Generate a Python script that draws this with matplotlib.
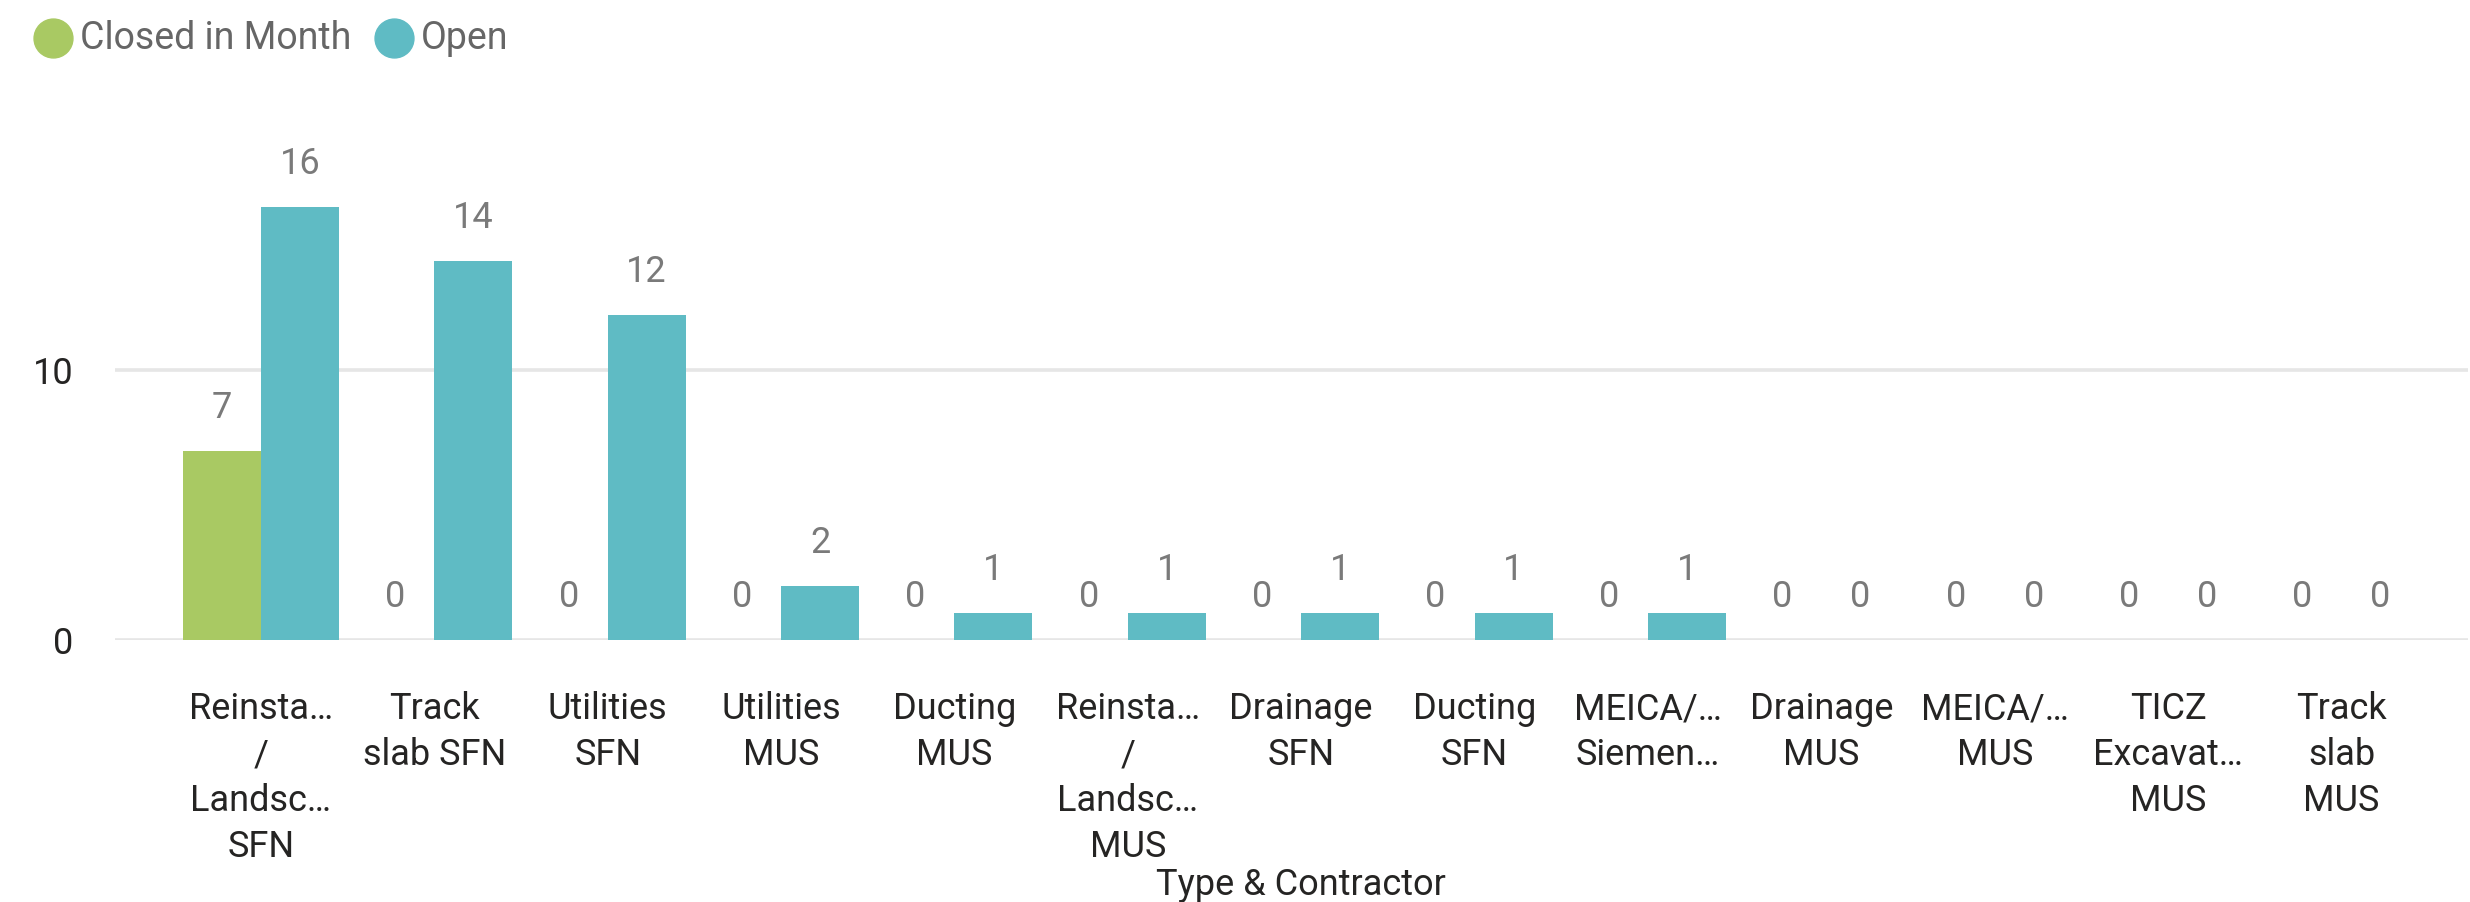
import matplotlib
matplotlib.use("Agg")
import matplotlib.pyplot as plt
import numpy as np
from matplotlib.lines import Line2D

categories = [
    "Reinsta…\n/\nLandsc…\nSFN",
    "Track\nslab SFN",
    "Utilities\nSFN",
    "Utilities\nMUS",
    "Ducting\nMUS",
    "Reinsta…\n/\nLandsc…\nMUS",
    "Drainage\nSFN",
    "Ducting\nSFN",
    "MEICA/…\nSiemen…",
    "Drainage\nMUS",
    "MEICA/…\nMUS",
    "TICZ\nExcavat…\nMUS",
    "Track\nslab\nMUS",
]
closed_in_month = [7, 0, 0, 0, 0, 0, 0, 0, 0, 0, 0, 0, 0]
open_items = [16, 14, 12, 2, 1, 1, 1, 1, 1, 0, 0, 0, 0]
series_names = ["Closed in Month", "Open"]
y_ticks = [0, 10]
x_title = "Type & Contractor"

GREEN = "#A9C963"
TEAL = "#5FBBC4"
LABEL_GRAY = "#7A7A7A"
TEXT = "#252423"

plt.rcParams["font.family"] = ["Roboto", "DejaVu Sans"]

W, H = 2470, 902
fig = plt.figure(figsize=(W / 100, H / 100), dpi=100)
ax_left, ax_right = 115, 2468
ax_bottom_px, ax_top_px = 640, 99
ax = fig.add_axes([ax_left / W, 1 - ax_bottom_px / H,
                   (ax_right - ax_left) / W, (ax_bottom_px - ax_top_px) / H])

x = np.arange(len(categories))
bw = 0.45
b1 = ax.bar(x - bw / 2, closed_in_month, width=bw, color=GREEN, zorder=3)
b2 = ax.bar(x + bw / 2, open_items, width=bw, color=TEAL, zorder=3)

for bars, vals in ((b1, closed_in_month), (b2, open_items)):
    for rect, v in zip(bars, vals):
        ax.annotate(f"{v}", (rect.get_x() + rect.get_width() / 2, v),
                    xytext=(0, 33), textcoords="offset pixels",
                    ha="center", va="baseline", fontsize=26, color=LABEL_GRAY)

ax.set_xlim(-0.842, 12.73)
ax.set_ylim(0, 20)
ax.set_yticks(y_ticks)
ax.set_yticklabels([str(t) for t in y_ticks], fontsize=26, color=TEXT)
ax.set_xticks(x)
ax.set_xticklabels(categories, fontsize=26, color=TEXT, linespacing=1.35,
                   va="top")
ax.tick_params(axis="x", length=0, pad=37)
ax.tick_params(axis="y", length=0, pad=30)
for s in ax.spines.values():
    s.set_visible(False)
ax.grid(axis="y", color="#E6E6E6", linewidth=2.6, zorder=0)
ax.set_axisbelow(True)

fig.text(1301 / W, 1 - 895 / H, x_title, ha="center", va="baseline",
         fontsize=26, color=TEXT)

# legend
legend_items = [(53, 80, GREEN, series_names[0]), (394, 421, TEAL, series_names[1])]
for cx, tx, col, name in legend_items:
    fig.add_artist(Line2D([cx / W], [1 - 38 / H], marker="o", markersize=28,
                          color=col, linestyle="none", transform=fig.transFigure))
    fig.text(tx / W, 1 - 49 / H, name, ha="left", va="baseline",
             fontsize=27, color="#666666")

fig.savefig("out.png", dpi=100)
